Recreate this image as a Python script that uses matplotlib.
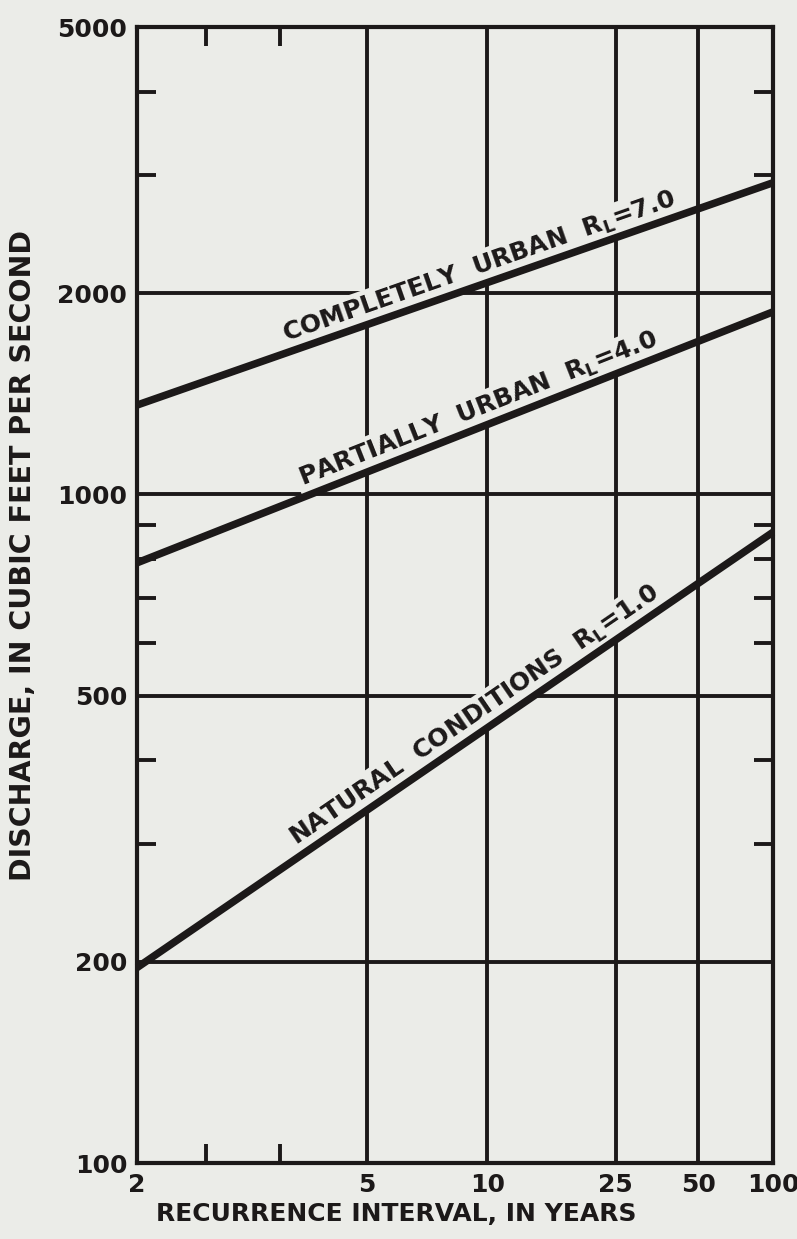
import math
import numpy as np
import matplotlib
matplotlib.use("Agg")
import matplotlib.pyplot as plt
from matplotlib.ticker import FixedLocator, NullFormatter, FixedFormatter

# recurrence interval (years) at the two ends of each line
years = [2, 100]
natural = [196, 878]
partial = [790, 1875]
complete = [1360, 2925]

line_labels = [
    "COMPLETELY  URBAN  R$_{\\mathrm{L}}$=7.0",
    "PARTIALLY  URBAN  R$_{\\mathrm{L}}$=4.0",
    "NATURAL  CONDITIONS  R$_{\\mathrm{L}}$=1.0",
]

x_major = [2, 5, 10, 25, 50, 100]
x_major_labels = ["2", "5", "10", "25", "50", "100"]
x_minor = [2.5, 10 / 3]
y_major = [100, 200, 500, 1000, 2000, 5000]
y_major_labels = ["100", "200", "500", "1000", "2000", "5000"]
y_minor = [300, 400, 600, 700, 800, 900, 3000, 4000]

bg = "#ebece8"
ink = "#1c1919"

plt.rcParams["mathtext.fontset"] = "custom"
plt.rcParams["mathtext.rm"] = "DejaVu Sans:bold"
plt.rcParams["mathtext.it"] = "DejaVu Sans:bold"

_erf = np.vectorize(math.erf)


def norm_cdf(z):
    return 0.5 * (1 + _erf(np.asarray(z, dtype=float) / math.sqrt(2)))


def norm_ppf(p):
    p = np.asarray(p, dtype=float)
    lo = np.full_like(p, -9.0)
    hi = np.full_like(p, 9.0)
    for _ in range(60):
        mid = 0.5 * (lo + hi)
        below = norm_cdf(mid) < p
        lo = np.where(below, mid, lo)
        hi = np.where(below, hi, mid)
    return 0.5 * (lo + hi)


# normal probability scale for recurrence interval
def fwd(t):
    t = np.clip(np.asarray(t, dtype=float), 1.000001, 1e9)
    return norm_ppf(1 - 1 / t)


def inv(z):
    q = 1 - norm_cdf(z)
    q = np.clip(q, 1e-12, 1)
    return 1 / q


fig = plt.figure(figsize=(7.97, 12.39), dpi=100, facecolor=bg)
ax = fig.add_axes([0.1719, 0.0613, 0.798, 0.9169], facecolor=bg)
ax.set_xscale("function", functions=(fwd, inv))
ax.set_yscale("log")
ax.set_xlim(2, 100)
ax.set_ylim(100, 5000)

ax.xaxis.set_major_locator(FixedLocator(x_major))
ax.xaxis.set_major_formatter(FixedFormatter(x_major_labels))
ax.xaxis.set_minor_locator(FixedLocator(x_minor))
ax.xaxis.set_minor_formatter(NullFormatter())
ax.yaxis.set_major_locator(FixedLocator(y_major))
ax.yaxis.set_major_formatter(FixedFormatter(y_major_labels))
ax.yaxis.set_minor_locator(FixedLocator(y_minor))
ax.yaxis.set_minor_formatter(NullFormatter())

ax.tick_params(which="major", length=0, pad=7, labelsize=18, labelcolor=ink)
ax.tick_params(which="minor", direction="in", length=14, width=2.8, color=ink,
               top=True, right=True)
for lab in ax.get_xticklabels() + ax.get_yticklabels():
    lab.set_fontweight("bold")

ax.set_axisbelow(True)
ax.grid(which="major", color=ink, linewidth=2.8)
for s in ax.spines.values():
    s.set_linewidth(3)
    s.set_color(ink)

series = [complete, partial, natural]
for vals, text in zip(series, line_labels):
    ln, = ax.plot(years, vals, color=ink, linewidth=5.4, solid_capstyle="butt",
                  zorder=3, clip_on=False)
    p0, p1 = ax.transData.transform(np.column_stack([years, vals]))
    ang = math.degrees(math.atan2(p1[1] - p0[1], p1[0] - p0[0]))
    f = 0.547
    pc = p0 + f * (p1 - p0)
    n = np.array([-math.sin(math.radians(ang)), math.cos(math.radians(ang))])
    pc = pc + n * 4
    xd, yd = ax.transData.inverted().transform(pc)
    ax.text(xd, yd, text, rotation=ang, rotation_mode="anchor", ha="center",
            va="bottom", fontsize=18, fontweight="bold", color=ink, zorder=2,
            bbox=dict(boxstyle="square,pad=0.15", facecolor=bg, edgecolor="none"))

ax.set_xlabel("RECURRENCE INTERVAL, IN YEARS", fontsize=18, fontweight="bold",
              color=ink)
ax.xaxis.set_label_coords(0.407, -0.034)
ax.set_ylabel("DISCHARGE, IN CUBIC FEET PER SECOND", fontsize=20.5, fontweight="bold",
              color=ink)
ax.yaxis.set_label_coords(-0.157, 0.535)

fig.savefig("out.png", dpi=100, facecolor=bg)
